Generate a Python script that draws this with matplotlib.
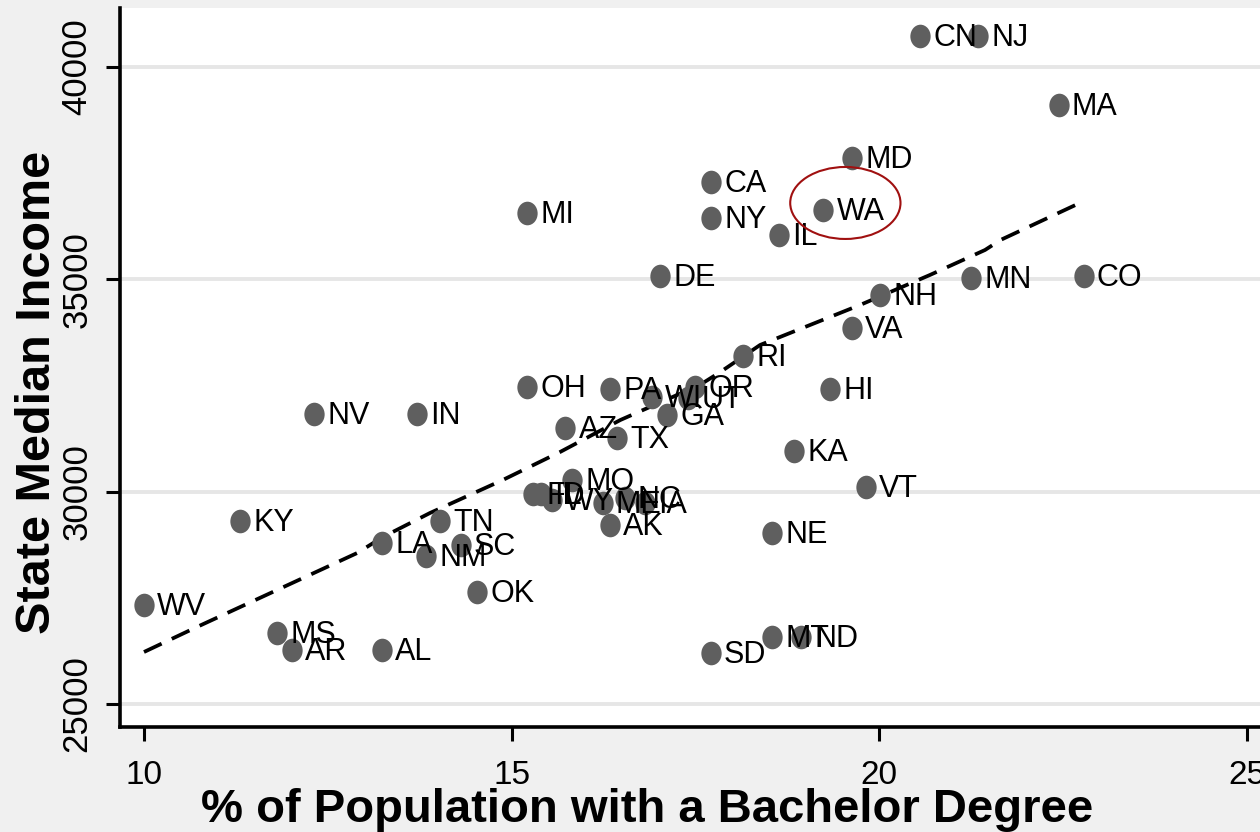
import matplotlib
matplotlib.use("Agg")
import matplotlib.pyplot as plt
from matplotlib import font_manager
from matplotlib.patches import Ellipse
from matplotlib.path import Path
from matplotlib.transforms import Affine2D

# state median income vs % with bachelor degree
states = ["CN", "NJ", "MA", "MD", "CA", "WA", "MI", "NY", "IL", "DE",
          "MN", "CO", "NH", "VA", "RI", "OH", "PA", "WI", "UT", "OR",
          "GA", "HI", "NV", "IN", "AZ", "TX", "KA", "MO", "VT", "FL",
          "ID", "WY", "ME", "NC", "IA", "AK", "NE", "KY", "TN", "LA",
          "SC", "NM", "OK", "WV", "MS", "AR", "AL", "SD", "MT", "ND"]
bachelor = [20.56, 21.35, 22.44, 19.63, 17.71, 19.24, 15.21, 17.71, 18.64, 17.02,
            21.25, 22.78, 20.01, 19.63, 18.15, 15.21, 16.34, 16.91, 17.40, 17.50,
            17.12, 19.33, 12.31, 13.71, 15.73, 16.44, 18.84, 15.82, 19.82, 15.29,
            15.40, 15.55, 16.24, 16.54, 16.82, 16.34, 18.54, 11.31, 14.03, 13.24,
            14.31, 13.84, 14.53, 10.00, 11.81, 12.01, 13.24, 17.71, 18.54, 18.94]
income = [40729, 40729, 39104, 37856, 37291, 36632, 36561, 36443, 36043, 35078,
          35031, 35078, 34631, 33853, 33194, 32464, 32417, 32229, 32205, 32464,
          31805, 32417, 31828, 31828, 31499, 31263, 30957, 30274, 30110, 29945,
          29945, 29803, 29733, 29850, 29733, 29215, 29026, 29309, 29309, 28791,
          28744, 28485, 27637, 27331, 26672, 26271, 26271, 26201, 26578, 26578]

# smoothed fit line
fit_x = [10.0, 10.72, 11.81, 12.90, 13.25, 13.89, 14.88, 15.66, 16.48, 17.56,
         17.84, 18.38, 19.74, 20.69, 21.44, 21.65, 22.73]
fit_y = [26224, 26813, 27684, 28555, 28932, 29497, 30274, 30934, 31687, 32511,
         32817, 33453, 34395, 35101, 35690, 35925, 36797]

xticks = [10, 15, 20, 25]
yticks = [25000, 30000, 35000, 40000]

names = {f.name for f in font_manager.fontManager.ttflist}
FONT = "Liberation Sans Narrow" if "Liberation Sans Narrow" in names else "Liberation Sans"

fig = plt.figure(figsize=(12.6, 8.32), dpi=100, facecolor="#f0f0f0")
ax = fig.add_axes([0.0952, 0.1262, 0.9048, 0.8642])
ax.set_facecolor("white")

for y in yticks:
    ax.axhline(y, color="#e6e6e6", lw=2.8, zorder=0)

ax.plot(fit_x, fit_y, color="black", lw=2.7, dashes=(5.2, 3.0), zorder=2)

oval = Path(Affine2D().scale(0.86, 1.0).transform(Path.unit_circle().vertices),
            Path.unit_circle().codes)
ax.plot(bachelor, income, ls="none", marker=oval, markersize=17,
        color="#5f5f5f", markeredgewidth=0, zorder=3)

for s, x, y in zip(states, bachelor, income):
    ax.annotate(s, (x, y), xytext=(9.5, -1.5), textcoords="offset points",
                va="center", ha="left", fontsize=22, family=FONT, zorder=4)

ax.add_patch(Ellipse((19.54, 36797), 1.50, 1695, fill=False,
                     edgecolor="#a01010", lw=1.5, zorder=5))

ax.set_xlim(9.673, 25.18)
ax.set_ylim(24458, 41388)
ax.set_xticks(xticks)
ax.set_yticks(yticks)
ax.set_xticklabels([str(t) for t in xticks], fontsize=24, family=FONT)
ax.set_yticklabels([str(t) for t in yticks], fontsize=25, family=FONT,
                   rotation=90, va="center")
ax.tick_params(axis="both", length=10, width=2.2, color="black")
ax.tick_params(axis="x", pad=14)
ax.tick_params(axis="y", pad=9)

for side in ["top", "right"]:
    ax.spines[side].set_visible(False)
for side in ["left", "bottom"]:
    ax.spines[side].set_linewidth(2.6)

ax.set_xlabel("% of Population with a Bachelor Degree", fontsize=34,
              fontweight="bold", family=FONT)
ax.xaxis.set_label_coords(0.462, -0.085)
ax.set_ylabel("State Median Income", fontsize=35, fontweight="bold",
              family=FONT)
ax.yaxis.set_label_coords(-0.053, 0.465)

fig.savefig("out.png", dpi=100, facecolor=fig.get_facecolor())
